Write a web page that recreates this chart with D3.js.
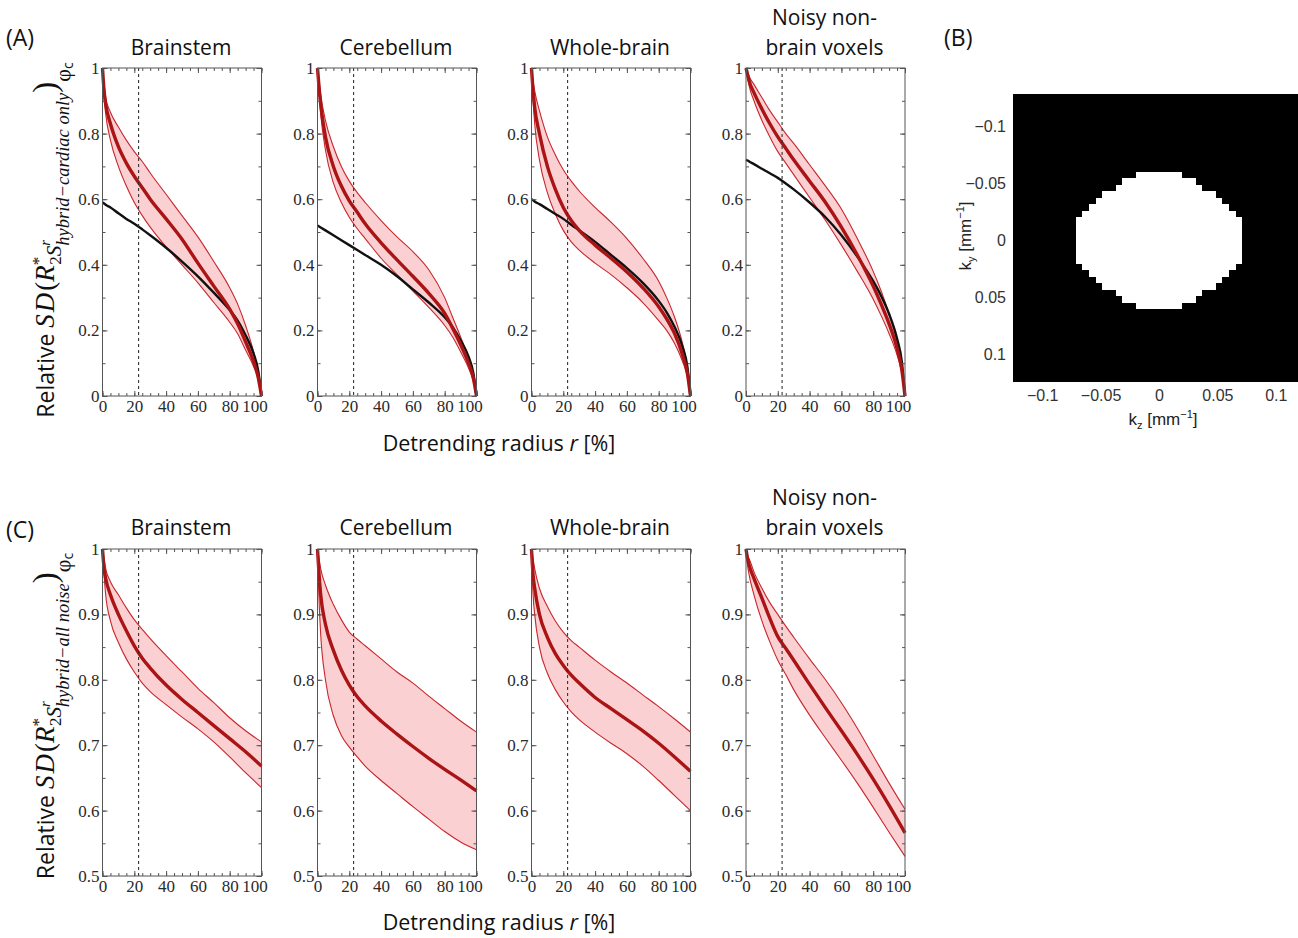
<!DOCTYPE html>
<html>
<head>
<meta charset="utf-8">
<script src="https://cdn.jsdelivr.net/npm/d3@7"></script>
<style>
body { margin: 0; background: #fff; }
</style>
</head>
<body>
<svg id="fig" width="1298" height="938"></svg>
<script>
// ---- data ----
var regions = ["Brainstem", "Cerebellum", "Whole-brain", "Noisy non-brain voxels"];
var rTop = [0, 1, 2, 5, 10, 15, 20, 25, 30, 40, 50, 60, 70, 80, 85, 90, 95, 98, 100];
var rBottom = [0, 1, 2, 5, 10, 15, 20, 25, 30, 40, 50, 60, 70, 80, 90, 100];
var xTicks = [0, 20, 40, 60, 80, 100];
var yTicksTop = [0, 0.2, 0.4, 0.6, 0.8, 1];
var yTicksBottom = [0.5, 0.6, 0.7, 0.8, 0.9, 1];
var cutoffRadius = 22.7;

// (A) cardiac only: mean, band, and black reference curve
var brainstemCardiacMean  = [1, 0.93, 0.89, 0.83, 0.76, 0.71, 0.67, 0.635, 0.60, 0.54, 0.478, 0.405, 0.335, 0.265, 0.22, 0.165, 0.105, 0.055, 0];
var brainstemCardiacUpper = [1, 0.95, 0.91, 0.865, 0.82, 0.78, 0.745, 0.715, 0.68, 0.615, 0.55, 0.485, 0.41, 0.33, 0.28, 0.215, 0.135, 0.07, 0];
var brainstemCardiacLower = [1, 0.91, 0.86, 0.78, 0.70, 0.64, 0.59, 0.55, 0.515, 0.455, 0.40, 0.345, 0.285, 0.225, 0.19, 0.14, 0.09, 0.05, 0];
var brainstemCardiacRef   = [0.59, 0.587, 0.583, 0.575, 0.557, 0.54, 0.525, 0.508, 0.49, 0.452, 0.41, 0.365, 0.315, 0.262, 0.23, 0.185, 0.13, 0.075, 0];

var cerebellumCardiacMean  = [1, 0.94, 0.89, 0.79, 0.70, 0.64, 0.595, 0.56, 0.525, 0.467, 0.415, 0.365, 0.313, 0.252, 0.207, 0.157, 0.10, 0.055, 0];
var cerebellumCardiacUpper = [1, 0.96, 0.92, 0.84, 0.76, 0.70, 0.655, 0.62, 0.59, 0.535, 0.485, 0.44, 0.385, 0.30, 0.24, 0.18, 0.115, 0.06, 0];
var cerebellumCardiacLower = [1, 0.92, 0.86, 0.75, 0.65, 0.59, 0.545, 0.51, 0.48, 0.42, 0.37, 0.32, 0.27, 0.215, 0.18, 0.135, 0.085, 0.045, 0];
var cerebellumCardiacRef   = [0.52, 0.517, 0.514, 0.505, 0.49, 0.475, 0.46, 0.445, 0.43, 0.40, 0.365, 0.325, 0.285, 0.24, 0.21, 0.17, 0.12, 0.07, 0];

var wholeCardiacMean  = [1, 0.93, 0.88, 0.80, 0.70, 0.63, 0.575, 0.535, 0.505, 0.46, 0.42, 0.378, 0.33, 0.272, 0.235, 0.19, 0.125, 0.07, 0];
var wholeCardiacUpper = [1, 0.96, 0.93, 0.87, 0.79, 0.735, 0.69, 0.655, 0.625, 0.575, 0.53, 0.48, 0.42, 0.35, 0.30, 0.24, 0.16, 0.09, 0];
var wholeCardiacLower = [1, 0.90, 0.83, 0.72, 0.62, 0.555, 0.505, 0.47, 0.445, 0.405, 0.37, 0.33, 0.285, 0.23, 0.20, 0.16, 0.105, 0.06, 0];
var wholeCardiacRef   = [0.60, 0.597, 0.593, 0.585, 0.57, 0.555, 0.54, 0.522, 0.505, 0.47, 0.43, 0.39, 0.345, 0.29, 0.255, 0.21, 0.15, 0.09, 0];

var noisyCardiacMean  = [1, 0.98, 0.96, 0.925, 0.875, 0.83, 0.79, 0.755, 0.72, 0.655, 0.59, 0.515, 0.43, 0.335, 0.28, 0.22, 0.145, 0.08, 0];
var noisyCardiacUpper = [1, 0.99, 0.975, 0.95, 0.91, 0.87, 0.835, 0.80, 0.77, 0.705, 0.64, 0.57, 0.48, 0.38, 0.32, 0.25, 0.165, 0.09, 0];
var noisyCardiacLower = [1, 0.97, 0.945, 0.90, 0.84, 0.79, 0.745, 0.71, 0.675, 0.605, 0.535, 0.46, 0.38, 0.295, 0.245, 0.19, 0.125, 0.07, 0];
var noisyCardiacRef   = [0.72, 0.718, 0.715, 0.707, 0.693, 0.679, 0.665, 0.648, 0.63, 0.59, 0.545, 0.49, 0.425, 0.35, 0.305, 0.25, 0.175, 0.105, 0];

// (C) all noise: mean and band
var brainstemAllMean  = [1, 0.97, 0.955, 0.93, 0.90, 0.875, 0.852, 0.833, 0.818, 0.792, 0.77, 0.75, 0.73, 0.71, 0.69, 0.668];
var brainstemAllUpper = [1, 0.985, 0.97, 0.95, 0.93, 0.91, 0.892, 0.877, 0.863, 0.837, 0.812, 0.787, 0.765, 0.742, 0.722, 0.705];
var brainstemAllLower = [1, 0.96, 0.93, 0.89, 0.857, 0.832, 0.812, 0.795, 0.782, 0.762, 0.743, 0.725, 0.705, 0.682, 0.658, 0.635];

var cerebellumAllMean  = [1, 0.96, 0.93, 0.885, 0.845, 0.815, 0.792, 0.774, 0.76, 0.737, 0.717, 0.698, 0.68, 0.663, 0.647, 0.63];
var cerebellumAllUpper = [1, 0.985, 0.97, 0.945, 0.915, 0.892, 0.873, 0.862, 0.852, 0.832, 0.812, 0.795, 0.775, 0.756, 0.737, 0.72];
var cerebellumAllLower = [1, 0.92, 0.87, 0.80, 0.745, 0.715, 0.697, 0.682, 0.668, 0.646, 0.626, 0.606, 0.587, 0.568, 0.552, 0.54];

var wholeAllMean  = [1, 0.96, 0.94, 0.90, 0.865, 0.84, 0.822, 0.807, 0.795, 0.773, 0.756, 0.739, 0.722, 0.703, 0.682, 0.66];
var wholeAllUpper = [1, 0.985, 0.97, 0.94, 0.912, 0.89, 0.873, 0.86, 0.85, 0.83, 0.812, 0.795, 0.777, 0.759, 0.74, 0.72];
var wholeAllLower = [1, 0.93, 0.90, 0.85, 0.81, 0.785, 0.766, 0.751, 0.739, 0.72, 0.703, 0.687, 0.668, 0.646, 0.623, 0.60];

var noisyAllMean  = [1, 0.985, 0.975, 0.955, 0.925, 0.894, 0.866, 0.848, 0.83, 0.793, 0.757, 0.722, 0.686, 0.648, 0.608, 0.566];
var noisyAllUpper = [1, 0.99, 0.985, 0.965, 0.94, 0.918, 0.90, 0.882, 0.865, 0.832, 0.80, 0.765, 0.726, 0.684, 0.642, 0.602];
var noisyAllLower = [1, 0.975, 0.96, 0.93, 0.89, 0.858, 0.83, 0.808, 0.785, 0.746, 0.711, 0.677, 0.642, 0.605, 0.567, 0.53];

// (B) detrending mask: half width (in k-space cells) of each row, top to bottom
var maskHalfWidths = [3.5, 5.5, 6.5, 8.5, 9.5, 10.5, 11.5, 12.5, 12.5, 12.5, 12.5, 12.5, 12.5, 12.5, 11.5, 10.5, 9.5, 8.5, 6.5, 5.5, 3.5];
var maskCell = 0.0057;
var kTicks = [-0.1, -0.05, 0, 0.05, 0.1];

// ---- drawing ----
var svg = d3.select("#fig");
var serif = "'Liberation Serif', 'DejaVu Serif', serif";
var sans = "'Open Sans', 'Liberation Sans', sans-serif";
var lefts = [102.5, 317.5, 531.5, 746];
var pw = 159;

var topSeries = [
    [brainstemCardiacMean, brainstemCardiacUpper, brainstemCardiacLower, brainstemCardiacRef],
    [cerebellumCardiacMean, cerebellumCardiacUpper, cerebellumCardiacLower, cerebellumCardiacRef],
    [wholeCardiacMean, wholeCardiacUpper, wholeCardiacLower, wholeCardiacRef],
    [noisyCardiacMean, noisyCardiacUpper, noisyCardiacLower, noisyCardiacRef]
];
var bottomSeries = [
    [brainstemAllMean, brainstemAllUpper, brainstemAllLower],
    [cerebellumAllMean, cerebellumAllUpper, cerebellumAllLower],
    [wholeAllMean, wholeAllUpper, wholeAllLower],
    [noisyAllMean, noisyAllUpper, noisyAllLower]
];

function styleAxis(a) {
    a.select(".domain").remove();
    a.selectAll("line").attr("stroke", "#555");
    a.selectAll("text").attr("font-family", serif).attr("font-size", 17).attr("fill", "#2a2a2a");
}

function drawPanel(i, top, bottom, yDom, yTicks, yMinorStep, r, s, titleBase) {
    var x = d3.scaleLinear().domain([0, 100]).range([lefts[i], lefts[i] + pw]);
    var y = d3.scaleLinear().domain(yDom).range([bottom, top]);
    var g = svg.append("g");

    // band
    g.append("path")
        .datum(r)
        .attr("fill", "#fbd0d3")
        .attr("stroke", "none")
        .attr("d", d3.area().curve(d3.curveMonotoneX)
            .x(function(d) { return x(d); })
            .y0(function(d, j) { return y(s[2][j]); })
            .y1(function(d, j) { return y(s[1][j]); }));
    [s[1], s[2]].forEach(function(arr) {
        g.append("path").datum(r)
            .attr("fill", "none").attr("stroke", "#c8262c").attr("stroke-width", 1.1)
            .attr("d", d3.line().curve(d3.curveMonotoneX)
                .x(function(d) { return x(d); })
                .y(function(d, j) { return y(arr[j]); }));
    });
    // reference curve (black)
    if (s[3]) {
        g.append("path").datum(r)
            .attr("fill", "none").attr("stroke", "#111").attr("stroke-width", 2.4)
            .attr("d", d3.line().curve(d3.curveMonotoneX)
                .x(function(d) { return x(d); })
                .y(function(d, j) { return y(s[3][j]); }));
    }
    // mean
    g.append("path").datum(r)
        .attr("fill", "none").attr("stroke", "#aa1414").attr("stroke-width", 3.4)
        .attr("d", d3.line().curve(d3.curveMonotoneX)
            .x(function(d) { return x(d); })
            .y(function(d, j) { return y(s[0][j]); }));

    // dashed cutoff
    g.append("line")
        .attr("x1", x(cutoffRadius)).attr("x2", x(cutoffRadius))
        .attr("y1", top).attr("y2", bottom)
        .attr("stroke", "#333").attr("stroke-width", 1.1).attr("stroke-dasharray", "3,3");

    // axes with inward ticks on all sides
    var xMinor = d3.range(0, 101, 5);
    var yMinor = d3.range(yDom[0], yDom[1] + 1e-9, yMinorStep);
    var gx = g.append("g").attr("transform", "translate(0," + bottom + ")")
        .call(d3.axisBottom(x).tickValues(xTicks).tickSizeInner(-5).tickSizeOuter(0).tickPadding(4)
            .tickFormat(d3.format("d")));
    styleAxis(gx);
    gx.selectAll("text").filter(function(d) { return d === 100; }).attr("dx", -7);
    g.append("g").attr("transform", "translate(0," + bottom + ")")
        .call(d3.axisBottom(x).tickValues(xMinor).tickSize(-3).tickFormat("")).call(styleAxis);
    g.append("g").attr("transform", "translate(0," + top + ")")
        .call(d3.axisTop(x).tickValues(xTicks).tickSize(-5).tickFormat("")).call(styleAxis);
    g.append("g").attr("transform", "translate(0," + top + ")")
        .call(d3.axisTop(x).tickValues(xMinor).tickSize(-3).tickFormat("")).call(styleAxis);

    var gy = g.append("g").attr("transform", "translate(" + lefts[i] + ",0)")
        .call(d3.axisLeft(y).tickValues(yTicks).tickSizeInner(-5).tickSizeOuter(0).tickPadding(3)
            .tickFormat(d3.format("~g")));
    styleAxis(gy);
    g.append("g").attr("transform", "translate(" + lefts[i] + ",0)")
        .call(d3.axisLeft(y).tickValues(yMinor).tickSize(-3).tickFormat("")).call(styleAxis);
    g.append("g").attr("transform", "translate(" + (lefts[i] + pw) + ",0)")
        .call(d3.axisRight(y).tickValues(yTicks).tickSize(-5).tickFormat("")).call(styleAxis);
    g.append("g").attr("transform", "translate(" + (lefts[i] + pw) + ",0)")
        .call(d3.axisRight(y).tickValues(yMinor).tickSize(-3).tickFormat("")).call(styleAxis);

    g.append("rect")
        .attr("x", lefts[i]).attr("y", top).attr("width", pw).attr("height", bottom - top)
        .attr("fill", "none").attr("stroke", "#555").attr("stroke-width", 1);

    // title
    var cx = lefts[i] + pw / 2;
    var lines = regions[i] === "Noisy non-brain voxels" ? ["Noisy non-", "brain voxels"] : [regions[i]];
    lines.forEach(function(t, k) {
        g.append("text").attr("x", cx - 1).attr("y", titleBase - (lines.length - 1 - k) * 30)
            .attr("text-anchor", "middle").attr("font-family", sans).attr("font-size", 21)
            .attr("fill", "#111").text(t);
    });
}

for (var i = 0; i < 4; i++) {
    drawPanel(i, 68, 396, [0, 1], yTicksTop, 0.1, rTop, topSeries[i], 55);
    drawPanel(i, 549, 876, [0.5, 1], yTicksBottom, 0.05, rBottom, bottomSeries[i], 535);
}

// panel letters
[["(A)", 6, 46], ["(B)", 944, 46], ["(C)", 6, 538]].forEach(function(p) {
    svg.append("text").attr("x", p[1]).attr("y", p[2]).attr("font-family", sans)
        .attr("font-size", 23).attr("fill", "#111").text(p[0]);
});

// x titles
[451, 930].forEach(function(yy) {
    var t = svg.append("text").attr("x", 499).attr("y", yy).attr("text-anchor", "middle")
        .attr("font-family", sans).attr("font-size", 21.5).attr("fill", "#111");
    t.append("tspan").text("Detrending radius ");
    t.append("tspan").attr("font-style", "italic").text("r");
    t.append("tspan").text(" [%]");
});

// y titles
function yTitle(cy, sub) {
    var t = svg.append("text")
        .attr("transform", "translate(54," + cy + ") rotate(-90)")
        .attr("text-anchor", "middle").attr("fill", "#111");
    function part(txt, fam, size, italic) {
        var p = t.append("tspan").attr("font-family", fam).attr("font-size", size).text(txt);
        if (italic) p.attr("font-style", "italic");
        return p;
    }
    part("Relative ", sans, 23);
    part("SD", serif, 27, true).attr("letter-spacing", 2);
    part("(", serif, 27);
    part("R", serif, 27, true);
    part("*", serif, 17).attr("dy", -10);
    part("2", serif, 17).attr("dx", -8).attr("dy", 17);
    part("S", serif, 21, true);
    part("r", serif, 15, true).attr("dy", -11);
    part(sub, serif, 18.5, true).attr("dx", -6).attr("dy", 19);
    part(")", serif, 33).attr("dy", -13);
    part("φ", serif, 22).attr("dy", 14);
    part("c", sans, 14).attr("dy", 3);
}
yTitle(240, "hybrid\u2212cardiac only");
yTitle(716, "hybrid\u2212all noise");

// ---- panel B: k-space mask ----
var kz = d3.scaleLinear().domain([-0.125, 0.125]).range([1013, 1305]);
var ky = d3.scaleLinear().domain([-0.128, 0.124]).range([94, 382]);
var gb = svg.append("g");
gb.append("rect")
    .attr("x", kz(-0.125)).attr("y", ky(-0.128))
    .attr("width", kz(0.125) - kz(-0.125)).attr("height", ky(0.124) - ky(-0.128))
    .attr("fill", "#000");
var mid = (maskHalfWidths.length - 1) / 2;
gb.selectAll("rect.row").data(maskHalfWidths).enter().append("rect")
    .attr("class", "row")
    .attr("shape-rendering", "crispEdges")
    .attr("x", function(d) { return kz(-d * maskCell); })
    .attr("width", function(d) { return kz(d * maskCell) - kz(-d * maskCell); })
    .attr("y", function(d, j) { return ky((j - mid - 0.5) * maskCell); })
    .attr("height", function(d, j) { return ky((j - mid + 0.5) * maskCell) - ky((j - mid - 0.5) * maskCell) + 0.6; })
    .attr("fill", "#fff");

var kfmt = function(d) { return d === 0 ? "0" : d3.format("~g")(d).replace("-", "\u2212"); };
var gbx = gb.append("g").attr("transform", "translate(0,382)")
    .call(d3.axisBottom(kz).tickValues(kTicks).tickSize(0).tickPadding(8).tickFormat(kfmt));
var gby = gb.append("g").attr("transform", "translate(1013,0)")
    .call(d3.axisLeft(ky).tickValues(kTicks).tickSize(0).tickPadding(7).tickFormat(kfmt));
[gbx, gby].forEach(function(a) {
    a.select(".domain").remove();
    a.selectAll("text").attr("font-family", "'Liberation Sans', Arial, sans-serif")
        .attr("font-size", 16).attr("fill", "#333");
});

function kLabel(t, c) {
    t.attr("font-family", "'Liberation Sans', Arial, sans-serif").attr("font-size", 17).attr("fill", "#222");
    t.append("tspan").text("k");
    t.append("tspan").attr("font-size", 11).attr("dy", 4).text(c);
    t.append("tspan").attr("dy", -4).text(" [mm");
    t.append("tspan").attr("font-size", 11).attr("dy", -7).text("\u22121");
    t.append("tspan").attr("dy", 7).text("]");
}
kLabel(svg.append("text").attr("x", 1163).attr("y", 425).attr("text-anchor", "middle"), "z");
kLabel(svg.append("text").attr("transform", "translate(971,236) rotate(-90)").attr("text-anchor", "middle"), "y");
</script>
</body>
</html>
